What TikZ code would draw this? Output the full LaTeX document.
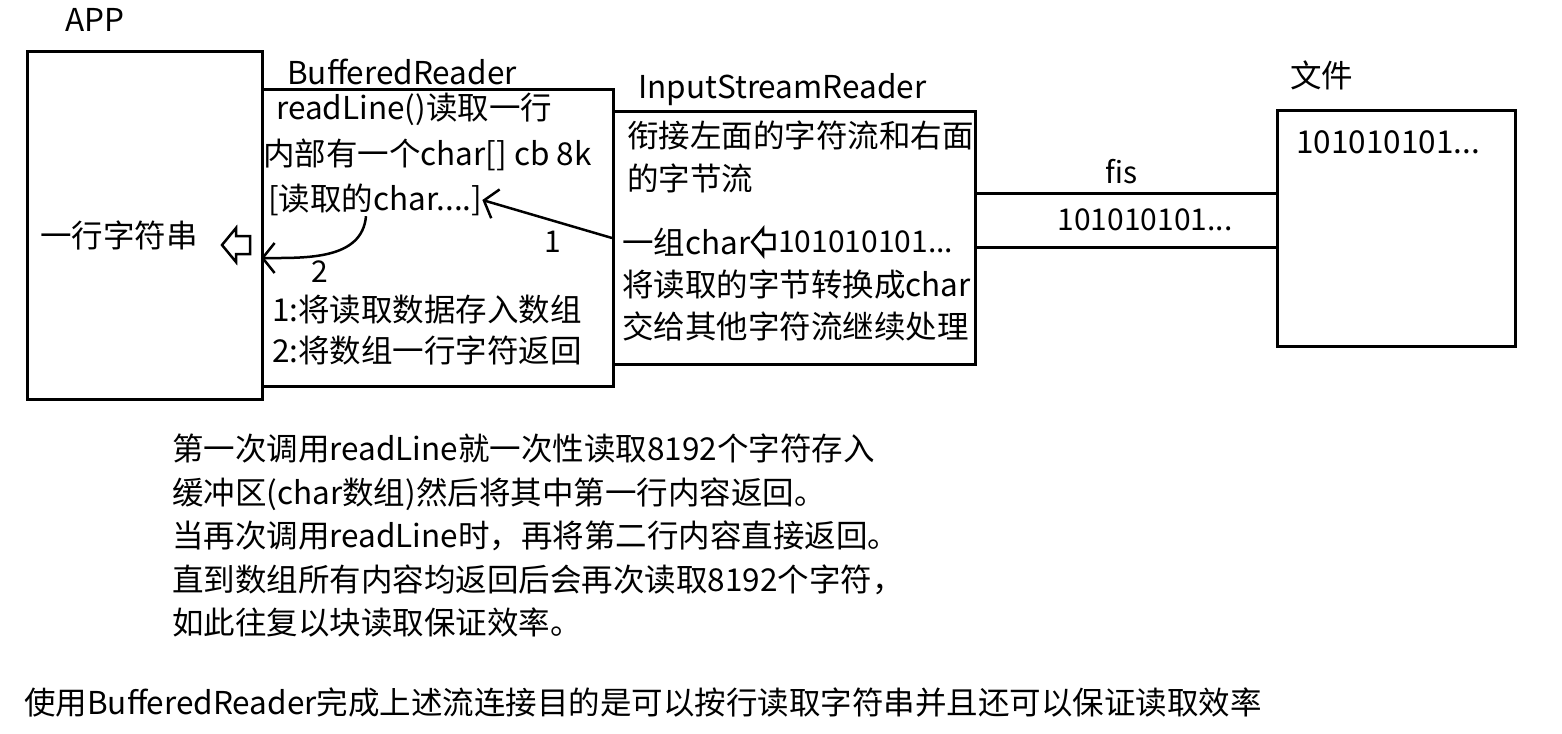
\documentclass[tikz,border=0pt]{standalone}
\usepackage{fontspec}
\setmainfont{Noto Sans CJK SC}
\usetikzlibrary{arrows.meta,calc,positioning}

\begin{document}
\begin{tikzpicture}[x=1pt,y=-1pt,>={Straight Barb[length=12pt,width=30pt]},
    box/.style={draw,line width=3pt,inner sep=0pt,anchor=north west},
    txt/.style={anchor=west,inner sep=0pt,font=\fontsize{31.5}{36}\selectfont},
    lbl/.style={inner sep=0pt,font=\fontsize{30}{36}\selectfont},
    flow/.style={->,line width=2.5pt},
    pipe/.style={line width=3pt},
    hollow/.pic={\draw[line width=2.5pt,line join=miter] (0,0) -- (14,-17) -- (14,-9) -- (28,-9) -- (28,9) -- (14,9) -- (14,17) -- cycle;}]
  \useasboundingbox (0,0) rectangle (1562,733);

  % boxes
  \node[box,minimum width=235pt,minimum height=348pt] (app) at (26,50) {};
  \node[box,minimum width=351pt,minimum height=297pt] (br) at (261,88) {};
  \node[box,minimum width=362pt,minimum height=253pt] (isr) at (612,110) {};
  \node[box,minimum width=238pt,minimum height=236pt] (file) at (1276,109) {};

  % titles
  \node[txt] (applbl) at (65,20) {APP};
  \node[txt] (brlbl) at (287,72) {BufferedReader};
  \node[txt] (isrlbl) at (638,90) {InputStreamReader};
  \node[txt] (filelbl) at (1290,75) {文件};

  % APP
  \node[txt] (oneline) at (40,235) {一行字符串};
  \pic at (222,245) {hollow};

  % BufferedReader
  \node[txt] (readline) at (276,109) {readLine()读取一行};
  \node[txt] (cb) at (263,155) {内部有一个char[] cb 8k};
  \node[txt] (charbuf) at (268,200) {[读取的char....]};
  \node[txt] (stepa) at (272,310) {1:将读取数据存入数组};
  \node[txt] (stepb) at (272,350) {2:将数组一行字符返回};
  \node[lbl] (numa) at (553,242) {1};
  \node[lbl] (numb) at (320,272) {2};

  % InputStreamReader
  \node[txt] (link) at (627,135) {衔接左面的字符流和右面};
  \node[txt] (linkb) at (627,178) {的字节流};
  \node[txt] (group) at (622,242) {一组char};
  \pic[scale=0.8] at (752,242) {hollow};
  \node[lbl,anchor=west] (bitsa) at (778,242) {101010101...};
  \node[txt] (conv) at (622,285) {将读取的字节转换成char};
  \node[txt] (pass) at (622,326) {交给其他字符流继续处理};

  % file
  \node[txt] (bitsf) at (1296,142) {101010101...};

  % fis pipe
  \draw[pipe] ($(isr.north east)+(0,83)$) -- ($(file.north west)+(0,84)$);
  \draw[pipe] ($(isr.north east)+(0,137)$) -- ($(file.north west)+(0,138)$);
  \node[lbl] (fis) at (1122,172) {fis};
  \node[lbl] (bitsp) at (1145,220) {101010101...};

  % arrows
  \draw[flow] ($(isr.north west)+(0,128)$) -- (charbuf.east);
  \draw[flow] ($(charbuf.south west)+(98,0)$) to[out=-95,in=0] ($(br.north west)+(0,170)$);

  % notes
  \node[anchor=north west,inner sep=0pt,align=left,font=\fontsize{31.5}{43.5}\selectfont] (notes) at (172,434)
    {第一次调用readLine就一次性读取8192个字符存入\\
     缓冲区(char数组)然后将其中第一行内容返回。\\
     当再次调用readLine时，再将第二行内容直接返回。\\
     直到数组所有内容均返回后会再次读取8192个字符，\\
     如此往复以块读取保证效率。};
  \node[txt] (summary) at (24,702) {使用BufferedReader完成上述流连接目的是可以按行读取字符串并且还可以保证读取效率};
\end{tikzpicture}
\end{document}
